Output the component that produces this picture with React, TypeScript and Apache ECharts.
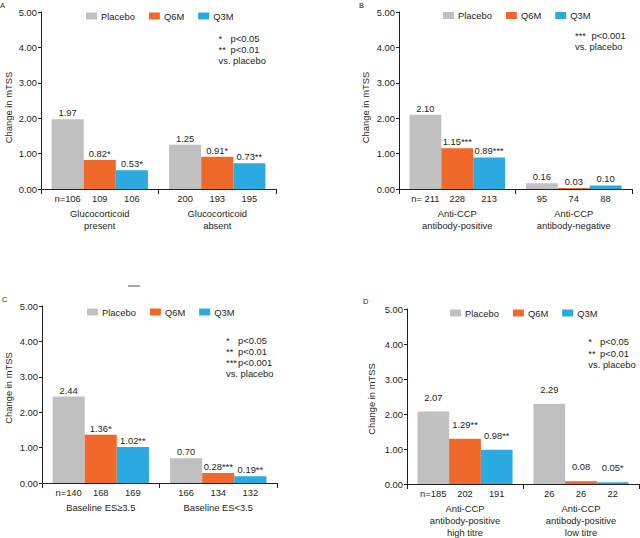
import React, { useEffect, useRef } from "react";
import * as echarts from "echarts";

// ---------- data ----------
const seriesNames = ["Placebo", "Q6M", "Q3M"];
const yTicks = [0, 1, 2, 3, 4, 5];

// Panel A
const catsA = ["Glucocorticoid\npresent", "Glucocorticoid\nabsent"];
const placeboA = [1.97, 1.25];
const q6mA = [0.82, 0.91];
const q3mA = [0.53, 0.73];
const nPlaceboA = ["n=106", "200"];
const nQ6mA = ["109", "193"];
const nQ3mA = ["106", "195"];
const sigPlaceboA = ["", ""];
const sigQ6mA = ["*", "*"];
const sigQ3mA = ["*", "**"];
const notesA = [["*", "p<0.05"], ["**", "p<0.01"], ["vs. placebo", ""]];

// Panel B
const catsB = ["Anti-CCP\nantibody-positive", "Anti-CCP\nantibody-negative"];
const placeboB = [2.1, 0.16];
const q6mB = [1.15, 0.03];
const q3mB = [0.89, 0.1];
const nPlaceboB = ["n= 211", "95"];
const nQ6mB = ["228", "74"];
const nQ3mB = ["213", "88"];
const sigPlaceboB = ["", ""];
const sigQ6mB = ["***", ""];
const sigQ3mB = ["***", ""];
const notesB = [["***", "p<0.001"], ["vs. placebo", ""]];

// Panel C
const catsC = ["Baseline ES\u22653.5", "Baseline ES<3.5"];
const placeboC = [2.44, 0.7];
const q6mC = [1.36, 0.28];
const q3mC = [1.02, 0.19];
const nPlaceboC = ["n=140", "166"];
const nQ6mC = ["168", "134"];
const nQ3mC = ["169", "132"];
const sigPlaceboC = ["", ""];
const sigQ6mC = ["*", "***"];
const sigQ3mC = ["**", "**"];
const notesC = [["*", "p<0.05"], ["**", "p<0.01"], ["***", "p<0.001"], ["vs. placebo", ""]];

// Panel D
const catsD = ["Anti-CCP\nantibody-positive\nhigh titre", "Anti-CCP\nantibody-positive\nlow titre"];
const placeboD = [2.07, 2.29];
const q6mD = [1.29, 0.08];
const q3mD = [0.98, 0.05];
const nPlaceboD = ["n=185", "26"];
const nQ6mD = ["202", "26"];
const nQ3mD = ["191", "22"];
const sigPlaceboD = ["", ""];
const sigQ6mD = ["**", ""];
const sigQ3mD = ["**", "*"];
const notesD = [["*", "p<0.05"], ["**", "p<0.01"], ["vs. placebo", ""]];

// ---------- styling ----------
const FONT = "'Liberation Sans', Arial, sans-serif";
const NARROW = "'Liberation Sans Narrow', 'Arial Narrow', 'Liberation Sans', Arial, sans-serif";
const FS = 9.4;
const TXT = "#231f20";
const COLORS = ["#c0c0c0", "#f0692b", "#2baae2"];

type Panel = {
  letter: string;
  letterPos: [number, number];
  cats: string[];
  vals: number[][];
  ns: string[][];
  sigs: string[][];
  grid: { left: number; top: number; width: number; height: number };
  legend: { left: number; top: number };
  labelDist: number;
  nameGap: number;
  namePad: number[];
  notes: string[][];
  notePos: { x: number; px: number; y: number; step: number };
};

const panels: Panel[] = [
  {
    letter: "A",
    letterPos: [0, 5],
    cats: catsA,
    vals: [placeboA, q6mA, q3mA],
    ns: [nPlaceboA, nQ6mA, nQ3mA],
    sigs: [sigPlaceboA, sigQ6mA, sigQ3mA],
    grid: { left: 41, top: 12, width: 235, height: 177 },
    legend: { left: 86, top: 11.5 },
    labelDist: 2,
    nameGap: 28,
    namePad: [0, 14, 0, 0],
    notes: notesA,
    notePos: { x: 218.5, px: 230.5, y: 38.5, step: 11 },
  },
  {
    letter: "B",
    letterPos: [359, 5],
    cats: catsB,
    vals: [placeboB, q6mB, q3mB],
    ns: [nPlaceboB, nQ6mB, nQ3mB],
    sigs: [sigPlaceboB, sigQ6mB, sigQ3mB],
    grid: { left: 399, top: 12, width: 233, height: 177 },
    legend: { left: 443, top: 11 },
    labelDist: 2,
    nameGap: 29,
    namePad: [0, 14, 0, 0],
    notes: notesB,
    notePos: { x: 575, px: 591.5, y: 35.7, step: 11 },
  },
  {
    letter: "C",
    letterPos: [2, 299],
    cats: catsC,
    vals: [placeboC, q6mC, q3mC],
    ns: [nPlaceboC, nQ6mC, nQ3mC],
    sigs: [sigPlaceboC, sigQ6mC, sigQ3mC],
    grid: { left: 42, top: 306, width: 235, height: 177 },
    legend: { left: 87, top: 307.5 },
    labelDist: 2,
    nameGap: 29,
    namePad: [0, 0, 0, 13],
    notes: notesC,
    notePos: { x: 226, px: 238, y: 340, step: 11.3 },
  },
  {
    letter: "D",
    letterPos: [363, 301.5],
    cats: catsD,
    vals: [placeboD, q6mD, q3mD],
    ns: [nPlaceboD, nQ6mD, nQ3mD],
    sigs: [sigPlaceboD, sigQ6mD, sigQ3mD],
    grid: { left: 407, top: 309, width: 232, height: 177 },
    legend: { left: 450, top: 308.5 },
    labelDist: 10,
    nameGap: 31,
    namePad: [0, 5, 0, 0],
    notes: notesD,
    notePos: { x: 588.3, px: 600, y: 341.7, step: 11.3 },
  },
];

function buildOption() {
  const grid: any[] = [];
  const xAxis: any[] = [];
  const yAxis: any[] = [];
  const legend: any[] = [];
  const series: any[] = [];
  const graphic: any[] = [];

  panels.forEach((p, idx) => {
    grid.push({ ...p.grid, containLabel: false });
    xAxis.push({
      type: "category",
      gridIndex: idx,
      data: p.cats,
      axisLine: { lineStyle: { color: TXT, width: 1 } },
      axisTick: { show: true, length: 5, alignWithLabel: false, lineStyle: { color: TXT } },
      axisLabel: { margin: 18, fontSize: FS, fontFamily: FONT, color: TXT, lineHeight: 12, interval: 0 },
      splitLine: { show: false },
    });
    yAxis.push({
      type: "value",
      gridIndex: idx,
      min: yTicks[0],
      max: yTicks[yTicks.length - 1],
      interval: 1,
      name: "Change in mTSS",
      nameLocation: "middle",
      nameGap: p.nameGap,
      nameTextStyle: { fontSize: FS, fontFamily: NARROW, color: TXT, padding: p.namePad },
      axisLine: { show: true, lineStyle: { color: TXT, width: 1 } },
      axisTick: { show: true, length: 3, lineStyle: { color: TXT } },
      axisLabel: {
        margin: 4,
        fontSize: FS,
        fontFamily: FONT,
        color: TXT,
        formatter: (v: number) => v.toFixed(2),
      },
      splitLine: { show: false },
    });
    legend.push({
      left: p.legend.left,
      top: p.legend.top,
      orient: "horizontal",
      data: seriesNames,
      icon: "rect",
      itemWidth: 11,
      itemHeight: 7,
      itemGap: 14,
      padding: 0,
      textStyle: { fontSize: FS, fontFamily: FONT, color: TXT, padding: [0, 0, 0, -1] },
      selectedMode: false,
    });
    seriesNames.forEach((name, i) => {
      const stack = `p${idx}s${i}`;
      const ns = p.ns[i];
      const sig = p.sigs[i];
      series.push({
        type: "bar",
        name: "n " + name,
        xAxisIndex: idx,
        yAxisIndex: idx,
        stack,
        silent: true,
        barGap: "0%",
        barCategoryGap: "18%",
        data: p.vals[i].map(() => 0),
        itemStyle: { color: "rgba(0,0,0,0)" },
        label: {
          show: true,
          position: "bottom",
          distance: 5,
          fontSize: FS,
          fontFamily: FONT,
          color: TXT,
          formatter: (prm: any) => ns[prm.dataIndex],
        },
      });
      series.push({
        type: "bar",
        name,
        xAxisIndex: idx,
        yAxisIndex: idx,
        stack,
        barGap: "0%",
        barCategoryGap: "18%",
        data: p.vals[i],
        itemStyle: { color: COLORS[i] },
        label: {
          show: true,
          position: "top",
          distance: p.labelDist,
          fontSize: FS,
          fontFamily: FONT,
          color: TXT,
          formatter: (prm: any) => Number(prm.value).toFixed(2) + sig[prm.dataIndex],
        },
      });
    });

    // panel letter
    graphic.push({
      type: "text",
      x: p.letterPos[0],
      y: p.letterPos[1],
      style: {
        text: p.letter,
        fill: TXT,
        font: `7.5px ${FONT}`,
        verticalAlign: "middle",
        textVerticalAlign: "middle",
      },
    });
    // significance notes
    p.notes.forEach((row, r) => {
      const y = p.notePos.y + r * p.notePos.step;
      graphic.push({
        type: "text",
        x: p.notePos.x,
        y,
        style: { text: row[0], fill: TXT, font: `${FS}px ${FONT}`, verticalAlign: "middle", textVerticalAlign: "middle" },
      });
      if (row[1]) {
        graphic.push({
          type: "text",
          x: p.notePos.px,
          y,
          style: { text: row[1], fill: TXT, font: `${FS}px ${FONT}`, verticalAlign: "middle", textVerticalAlign: "middle" },
        });
      }
    });
  });

  // small stray dash in the reference
  graphic.push({
    type: "line",
    shape: { x1: 128, y1: 286, x2: 140, y2: 286 },
    style: { stroke: "#8a8a8a", lineWidth: 1.5 },
  });

  return {
    animation: false,
    backgroundColor: "#ffffff",
    textStyle: { fontFamily: FONT },
    grid,
    xAxis,
    yAxis,
    legend,
    series,
    graphic,
  };
}

export default function App() {
  const ref = useRef<HTMLDivElement>(null);
  useEffect(() => {
    if (!ref.current) return;
    const chart = echarts.init(ref.current, undefined, { renderer: "svg" });
    chart.setOption(buildOption() as any);
    return () => chart.dispose();
  }, []);
  return (
    <div
      ref={ref}
      style={{ position: "absolute", left: 0, top: 0, width: 640, height: 538, background: "#fff" }}
    />
  );
}
